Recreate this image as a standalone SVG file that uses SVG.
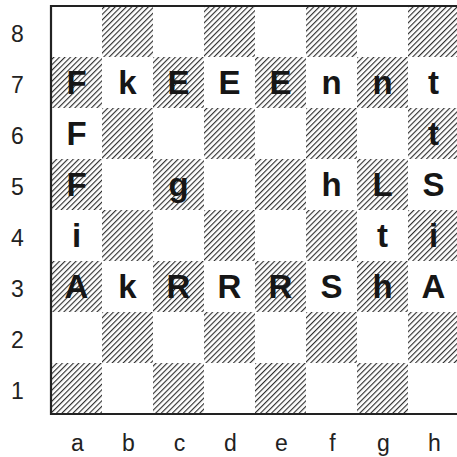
<svg xmlns="http://www.w3.org/2000/svg" width="457" height="457" viewBox="0 0 457 457">
<defs>
<pattern id="hatch" patternUnits="userSpaceOnUse" width="3.9" height="3.9" patternTransform="rotate(45)">
<rect width="3.9" height="3.9" fill="#fff"/>
<line x1="0.6" y1="-1" x2="0.6" y2="5" stroke="#1e1e1e" stroke-width="1.05"/>
</pattern>
<style>
.d{fill:url(#hatch)}
.p{font-family:"Liberation Sans",Arial,sans-serif;font-weight:bold;font-size:33px;fill:#161616;text-anchor:middle}
.l{font-family:"Liberation Sans",Arial,sans-serif;font-size:23px;fill:#222;text-anchor:middle}
.f{fill:none;stroke:#222;stroke-width:2.2}
</style>
</defs>
<rect width="457" height="457" fill="#fff"/>
<g id="squares">
<rect class="d" x="102" y="6" width="51" height="51"/><rect class="d" x="204" y="6" width="51" height="51"/><rect class="d" x="306" y="6" width="51" height="51"/><rect class="d" x="408" y="6" width="51" height="51"/>
<rect class="d" x="51" y="57" width="51" height="51"/><rect class="d" x="153" y="57" width="51" height="51"/><rect class="d" x="255" y="57" width="51" height="51"/><rect class="d" x="357" y="57" width="51" height="51"/>
<rect class="d" x="102" y="108" width="51" height="51"/><rect class="d" x="204" y="108" width="51" height="51"/><rect class="d" x="306" y="108" width="51" height="51"/><rect class="d" x="408" y="108" width="51" height="51"/>
<rect class="d" x="51" y="159" width="51" height="51"/><rect class="d" x="153" y="159" width="51" height="51"/><rect class="d" x="255" y="159" width="51" height="51"/><rect class="d" x="357" y="159" width="51" height="51"/>
<rect class="d" x="102" y="210" width="51" height="51"/><rect class="d" x="204" y="210" width="51" height="51"/><rect class="d" x="306" y="210" width="51" height="51"/><rect class="d" x="408" y="210" width="51" height="51"/>
<rect class="d" x="51" y="261" width="51" height="51"/><rect class="d" x="153" y="261" width="51" height="51"/><rect class="d" x="255" y="261" width="51" height="51"/><rect class="d" x="357" y="261" width="51" height="51"/>
<rect class="d" x="102" y="312" width="51" height="51"/><rect class="d" x="204" y="312" width="51" height="51"/><rect class="d" x="306" y="312" width="51" height="51"/><rect class="d" x="408" y="312" width="51" height="51"/>
<rect class="d" x="51" y="363" width="51" height="51"/><rect class="d" x="153" y="363" width="51" height="51"/><rect class="d" x="255" y="363" width="51" height="51"/><rect class="d" x="357" y="363" width="51" height="51"/>
</g>
<g id="frame">
<path class="f" d="M457,6 H51 V414 H457"/>
</g>
<g id="pieces">
<text class="p" x="76.5" y="94">F</text><text class="p" x="127.5" y="94">k</text><text class="p" x="178.5" y="94">E</text><text class="p" x="229.5" y="94">E</text><text class="p" x="280.5" y="94">E</text><text class="p" x="331.5" y="94">n</text><text class="p" x="382.5" y="94">n</text><text class="p" x="433.5" y="94">t</text>
<text class="p" x="76.5" y="145">F</text><text class="p" x="433.5" y="145">t</text>
<text class="p" x="76.5" y="196">F</text><text class="p" x="178.5" y="196">g</text><text class="p" x="331.5" y="196">h</text><text class="p" x="382.5" y="196">L</text><text class="p" x="433.5" y="196">S</text>
<text class="p" x="76.5" y="247">i</text><text class="p" x="382.5" y="247">t</text><text class="p" x="433.5" y="247">i</text>
<text class="p" x="76.5" y="298">A</text><text class="p" x="127.5" y="298">k</text><text class="p" x="178.5" y="298">R</text><text class="p" x="229.5" y="298">R</text><text class="p" x="280.5" y="298">R</text><text class="p" x="331.5" y="298">S</text><text class="p" x="382.5" y="298">h</text><text class="p" x="433.5" y="298">A</text>
</g>
<g id="ranks">
<text class="l" x="17.5" y="41.5">8</text><text class="l" x="17.5" y="92.5">7</text><text class="l" x="17.5" y="143.5">6</text><text class="l" x="17.5" y="194.5">5</text><text class="l" x="17.5" y="245.5">4</text><text class="l" x="17.5" y="296.5">3</text><text class="l" x="17.5" y="347.5">2</text><text class="l" x="17.5" y="398.5">1</text>
</g>
<g id="files">
<text class="l" x="77.5" y="450.5">a</text><text class="l" x="128.5" y="450.5">b</text><text class="l" x="179.5" y="450.5">c</text><text class="l" x="230.5" y="450.5">d</text><text class="l" x="281.5" y="450.5">e</text><text class="l" x="332.5" y="450.5">f</text><text class="l" x="383.5" y="450.5">g</text><text class="l" x="434.5" y="450.5">h</text>
</g>
</svg>
